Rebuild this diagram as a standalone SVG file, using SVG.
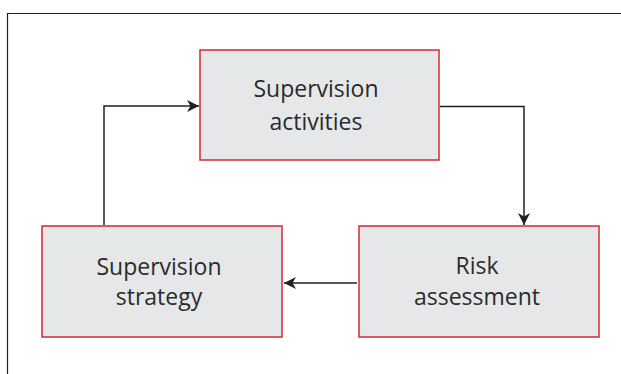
<svg xmlns="http://www.w3.org/2000/svg" width="621" height="374" viewBox="0 0 621 374">
<defs>
<style>
.box{fill:#e6e7e8;stroke:#d42a35;stroke-width:1.5}
.lbl{font-family:"Open Sans","Liberation Sans",sans-serif;font-size:23px;fill:#2b2b2b;text-anchor:middle}
.conn{fill:none;stroke:#231f20;stroke-width:1.5}
</style>
<marker id="arr" viewBox="0 0 12 12" refX="12" refY="6" markerWidth="12" markerHeight="12" markerUnits="userSpaceOnUse" orient="auto">
<path d="M0,0 L12,6 L0,12 L3.5,6 Z" fill="#231f20"/>
</marker>
</defs>
<rect width="621" height="374" fill="#ffffff"/>
<path d="M7.5,380 V13.5 H630" fill="none" stroke="#231f20" stroke-width="1.2"/>
<g id="connectors">
<path class="conn" d="M104,225 V106 H199" marker-end="url(#arr)"/>
<path class="conn" d="M440,106.5 H524 V225" marker-end="url(#arr)"/>
<path class="conn" d="M357,283 H284" marker-end="url(#arr)"/>
</g>
<g id="supervision-activities">
<rect class="box" x="200" y="50" width="239" height="110"/>
<text class="lbl" x="316" y="97">Supervision</text>
<text class="lbl" x="316" y="130">activities</text>
</g>
<g id="supervision-strategy">
<rect class="box" x="42" y="226" width="240" height="111"/>
<text class="lbl" x="159" y="275">Supervision</text>
<text class="lbl" x="159" y="305">strategy</text>
</g>
<g id="risk-assessment">
<rect class="box" x="359" y="226" width="240" height="111"/>
<text class="lbl" x="477" y="274">Risk</text>
<text class="lbl" x="477" y="305">assessment</text>
</g>
</svg>
